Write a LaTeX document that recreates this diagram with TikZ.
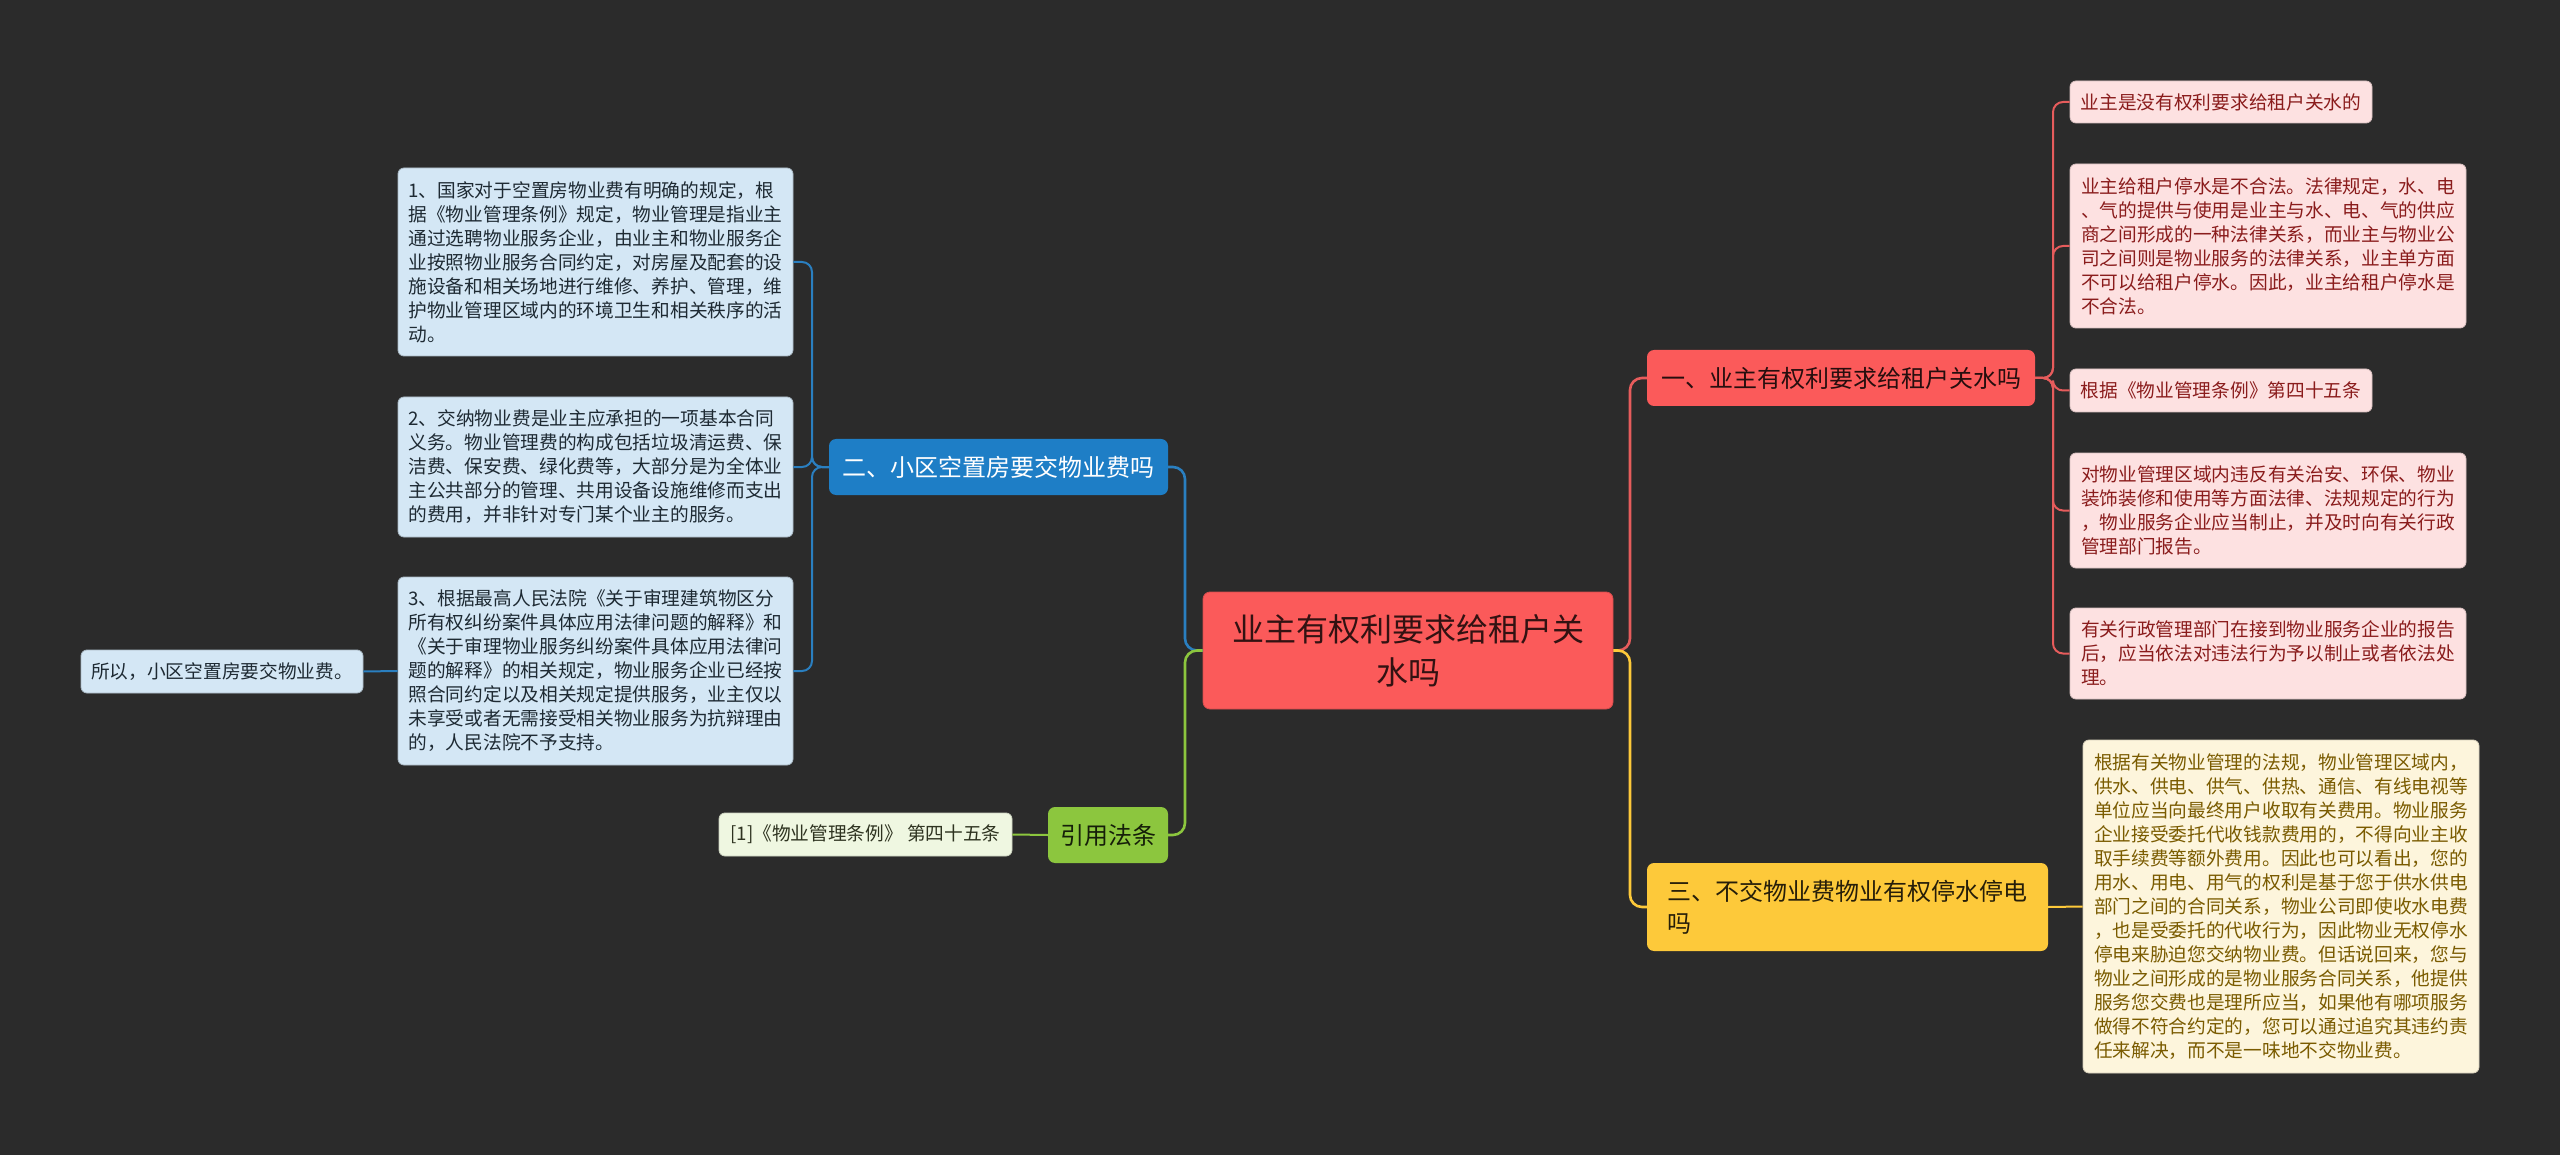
\documentclass[tikz,border=0pt]{standalone}
\usepackage{fontspec}
\setmainfont{Noto Sans CJK SC}
\definecolor{bg}{HTML}{2B2B2B}
\definecolor{mainred}{HTML}{FB5A5A}
\definecolor{linered}{HTML}{E65C5C}
\definecolor{pinkfill}{HTML}{FDE1E1}
\definecolor{pinktext}{HTML}{8A1C1C}
\definecolor{mainblue}{HTML}{1E7EC6}
\definecolor{lineblue}{HTML}{2A7FC0}
\definecolor{bluefill}{HTML}{D4E7F5}
\definecolor{bluetext}{HTML}{1E2A33}
\definecolor{maingreen}{HTML}{8CC63E}
\definecolor{greenfill}{HTML}{EFF7E1}
\definecolor{greentext}{HTML}{2E3320}
\definecolor{mainyellow}{HTML}{FDC93A}
\definecolor{yellowfill}{HTML}{FDF5DC}
\definecolor{yellowtext}{HTML}{7A5B00}
\begin{document}
\begin{tikzpicture}[x=1pt,y=-1pt,
  smallbox/.style={rounded corners=6pt, inner xsep=9pt, inner ysep=3pt, align=left,
    font=\fontsize{18.7}{24}\selectfont},
  bluebox/.style={smallbox, fill=bluefill, draw=bluefill!80!black, line width=0.8pt, text=bluetext},
  pinkbox/.style={smallbox, fill=pinkfill, draw=pinkfill!85!black, line width=0.8pt, text=pinktext},
  greenbox/.style={smallbox, fill=greenfill, draw=greenfill!85!black, line width=0.8pt, text=greentext},
  yellowbox/.style={smallbox, fill=yellowfill, draw=yellowfill!85!black, line width=0.8pt, text=yellowtext},
  branchbox/.style={rounded corners=7pt, inner xsep=10pt, inner ysep=3pt, align=left,
    font=\fontsize{24}{32}\selectfont},
  mainline/.style={line width=2.6pt, rounded corners=12pt},
  thinline/.style={line width=2pt, rounded corners=10pt}
]
\useasboundingbox[fill=bg] (0,0) rectangle (2560,1155);

% center
\node[rounded corners=7pt, fill=mainred, draw=mainred!85!black, line width=0.8pt, text=black!80!mainred,
  minimum width=410pt, minimum height=117pt, align=center,
  font=\fontsize{32}{43}\selectfont] (c) at (1408,650.5) {业主有权利要求给租户关\\水吗};

% main branches
\node[branchbox, fill=mainred, text=black!85!mainred, minimum width=388pt, minimum height=56pt] (n1) at (1841,378) {一、业主有权利要求给租户关水吗};
\node[branchbox, fill=mainblue, text=white, minimum width=339pt, minimum height=56pt] (n2) at (998.5,467) {二、小区空置房要交物业费吗};
\node[branchbox, fill=maingreen, text=black!85!maingreen, minimum width=120pt, minimum height=56pt, align=center] (n3) at (1108,835) {引用法条};
\node[branchbox, fill=mainyellow, text=black!85!mainyellow, minimum width=401pt, minimum height=88pt] (n4) at (1847.5,907) {三、不交物业费物业有权停水停电\\吗};

% left blue children
\node[bluebox, minimum width=395pt, minimum height=188pt] (b1) at (595.5,262) {1、国家对于空置房物业费有明确的规定，根\\据《物业管理条例》规定，物业管理是指业主\\通过选聘物业服务企业，由业主和物业服务企\\业按照物业服务合同约定，对房屋及配套的设\\施设备和相关场地进行维修、养护、管理，维\\护物业管理区域内的环境卫生和相关秩序的活\\动。};
\node[bluebox, minimum width=395pt, minimum height=140pt] (b2) at (595.5,467) {2、交纳物业费是业主应承担的一项基本合同\\义务。物业管理费的构成包括垃圾清运费、保\\洁费、保安费、绿化费等，大部分是为全体业\\主公共部分的管理、共用设备设施维修而支出\\的费用，并非针对专门某个业主的服务。};
\node[bluebox, minimum width=395pt, minimum height=188pt] (b3) at (595.5,671) {3、根据最高人民法院《关于审理建筑物区分\\所有权纠纷案件具体应用法律问题的解释》和\\《关于审理物业服务纠纷案件具体应用法律问\\题的解释》的相关规定，物业服务企业已经按\\照合同约定以及相关规定提供服务，业主仅以\\未享受或者无需接受相关物业服务为抗辩理由\\的，人民法院不予支持。};
\node[bluebox, minimum width=282pt, minimum height=43pt] (b4) at (222,671.5) {所以，小区空置房要交物业费。};

% green child
\node[greenbox, minimum width=293pt, minimum height=43pt] (g1) at (865.5,834.5) {[1]《物业管理条例》 第四十五条};

% right red children
\node[pinkbox, minimum width=302pt, minimum height=42pt] (r1) at (2221,102) {业主是没有权利要求给租户关水的};
\node[pinkbox, minimum width=396pt, minimum height=164pt] (r2) at (2268,246) {业主给租户停水是不合法。法律规定，水、电\\、气的提供与使用是业主与水、电、气的供应\\商之间形成的一种法律关系，而业主与物业公\\司之间则是物业服务的法律关系，业主单方面\\不可以给租户停水。因此，业主给租户停水是\\不合法。};
\node[pinkbox, minimum width=302pt, minimum height=43pt] (r3) at (2221,390.5) {根据《物业管理条例》第四十五条};
\node[pinkbox, minimum width=396pt, minimum height=115pt] (r4) at (2268,510.5) {对物业管理区域内违反有关治安、环保、物业\\装饰装修和使用等方面法律、法规规定的行为\\，物业服务企业应当制止，并及时向有关行政\\管理部门报告。};
\node[pinkbox, minimum width=396pt, minimum height=91pt] (r5) at (2268,653.5) {有关行政管理部门在接到物业服务企业的报告\\后，应当依法对违法行为予以制止或者依法处\\理。};

% yellow child
\node[yellowbox, minimum width=396pt, minimum height=333pt] (y1) at (2281,906.5) {根据有关物业管理的法规，物业管理区域内，\\供水、供电、供气、供热、通信、有线电视等\\单位应当向最终用户收取有关费用。物业服务\\企业接受委托代收钱款费用的，不得向业主收\\取手续费等额外费用。因此也可以看出，您的\\用水、用电、用气的权利是基于您于供水供电\\部门之间的合同关系，物业公司即使收水电费\\，也是受委托的代收行为，因此物业无权停水\\停电来胁迫您交纳物业费。但话说回来，您与\\物业之间形成的是物业服务合同关系，他提供\\服务您交费也是理所应当，如果他有哪项服务\\做得不符合约定的，您可以通过追究其违约责\\任来解决，而不是一味地不交物业费。};

% junction coordinates
\coordinate (rj) at (1630,650.5);
\coordinate (lj) at (1185,650.5);
\coordinate (rk) at (2053,378);
\coordinate (lk) at (812,467);

% connectors
\draw[mainline, draw=linered] (c.east) -- (rj) |- (n1.west);
\draw[mainline, draw=mainyellow] (c.east) -- (rj) |- (n4.west);
\draw[mainline, draw=lineblue] (c.west) -- (lj) |- (n2.east);
\draw[mainline, draw=maingreen] (c.west) -- (lj) |- (n3.east);

\foreach \r in {r1,r2,r3,r4,r5}{\draw[thinline, draw=linered] (n1.east) -- (rk) |- (\r.west);}
\foreach \b in {b1,b2,b3}{\draw[thinline, draw=lineblue] (n2.west) -- (lk) |- (\b.east);}
\draw[thinline, draw=lineblue] (b3.west) -- (b4.east);
\draw[thinline, draw=maingreen] (n3.west) -- (g1.east);
\draw[thinline, draw=mainyellow] (n4.east) -- (y1.west);
\end{tikzpicture}
\end{document}
